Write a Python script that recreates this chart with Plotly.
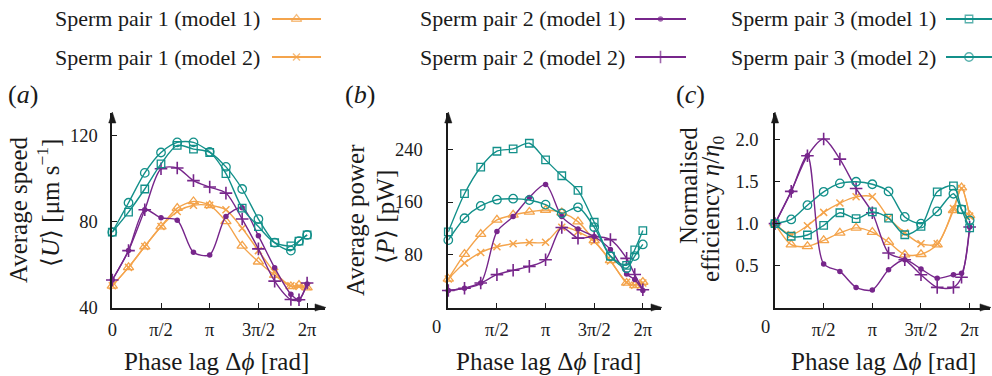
import numpy as np
import plotly.graph_objects as go

PI = np.pi
# phase lag positions, in multiples of pi
phase_units = [0, 1/6, 2/6, 3/6, 4/6, 5/6, 1, 7/6, 8/6, 9/6, 10/6, 11/6, 23/12, 2]
phase = [p * PI for p in phase_units]

xtick_vals = [0, PI / 2, PI, 3 * PI / 2, 2 * PI]
xtick_text = ["0", "π/2", "π", "3π/2", "2π"]

series_names = ["Sperm pair 1 (model 1)", "Sperm pair 1 (model 2)",
                "Sperm pair 2 (model 1)", "Sperm pair 2 (model 2)",
                "Sperm pair 3 (model 1)", "Sperm pair 3 (model 2)"]

# (a) average speed <U> [um/s]
speed_p1_m1 = [50.1, 58.7, 68.4, 77.7, 86.3, 89.4, 87.6, 80.1, 68.7, 61.3, 55.1, 49.8, 50.4, 49.3]
speed_p1_m2 = [50.1, 58.7, 68.4, 77.7, 84.7, 87.6, 87.6, 85.5, 76.9, 66.5, 56.4, 50.1, 49.8, 49.8]
speed_p2_m1 = [52.8, 66.5, 85.5, 81.8, 80.7, 65.7, 64.5, 82.4, 86.5, 73.4, 58.5, 46.2, 43.7, 50.9]
speed_p2_m2 = [52.8, 66.5, 85.5, 104.6, 105.0, 99.1, 96.1, 93.3, 81.2, 67.3, 52.3, 43.7, 43.6, 51.4]
speed_p3_m1 = [75.1, 84.4, 95.2, 106.9, 115.5, 113.8, 112.2, 102.4, 86.3, 77.7, 70.2, 68.7, 70.9, 73.8]
speed_p3_m2 = [75.1, 88.8, 102.7, 112.2, 116.9, 116.9, 112.5, 105.5, 95.2, 81.2, 70.2, 66.5, 70.9, 73.8]

# (b) average power <P> [pW]
power_p1_m1 = [43.3, 81.0, 111.2, 132.8, 140.4, 144.9, 147.9, 143.9, 130.3, 101.6, 71.5, 37.2, 33.7, 38.7]
power_p1_m2 = [43.3, 67.4, 83.5, 92.1, 96.6, 98.6, 99.1, 121.8, 115.2, 100.2, 70.5, 38.3, 33.7, 37.2]
power_p2_m1 = [25.7, 29.2, 37.2, 115.2, 137.9, 167.0, 186.7, 137.9, 119.2, 107.7, 88.0, 50.8, 42.3, 25.7]
power_p2_m2 = [25.7, 29.2, 37.2, 49.8, 56.4, 62.4, 72.5, 121.3, 105.2, 107.7, 103.0, 74.5, 50.0, 27.0]
power_p3_m1 = [114.7, 172.6, 212.8, 237.0, 240.5, 249.1, 223.9, 199.8, 177.6, 129.3, 78.0, 64.0, 87.5, 116.7]
power_p3_m2 = [102.2, 135.4, 154.0, 163.5, 165.0, 163.0, 156.0, 142.9, 152.0, 121.8, 77.5, 59.5, 78.0, 95.6]

# (c) normalised efficiency eta/eta0
eff_p1_m1 = [1.0, 0.75, 0.73, 0.80, 0.89, 0.95, 0.90, 0.78, 0.63, 0.635, 0.75, 1.16, 1.43, 1.10]
eff_p1_m2 = [1.0, 0.87, 0.976, 1.135, 1.246, 1.32, 1.32, 1.07, 0.89, 0.76, 0.76, 1.18, 1.42, 1.09]
eff_p2_m1 = [1.0, 1.385, 1.81, 0.52, 0.43, 0.24, 0.21, 0.45, 0.57, 0.46, 0.35, 0.39, 0.41, 0.96]
eff_p2_m2 = [1.0, 1.385, 1.81, 2.01, 1.77, 1.42, 1.13, 0.65, 0.57, 0.39, 0.24, 0.24, 0.36, 0.96]
eff_p3_m1 = [1.0, 0.85, 0.865, 0.98, 1.13, 1.06, 1.14, 1.067, 0.868, 0.967, 1.38, 1.45, 1.17, 0.95]
eff_p3_m2 = [1.0, 1.05, 1.22, 1.38, 1.48, 1.50, 1.47, 1.384, 1.08, 1.0, 1.146, 1.357, 1.17, 1.04]

ORANGE = "#f4a44c"
PURPLE = "#77268b"
TEAL = "#13908a"
FONT = "Liberation Serif, Times New Roman, serif"
INK = "#1a1a1a"

TICK_SIZE = 18.5
TITLE_SIZE = 25
LEG_SIZE = 22

styles = [
    dict(color=ORANGE, symbol="triangle-up-open", size=9, lw=1.3),
    dict(color=ORANGE, symbol="x-thin", size=7, lw=1.5),
    dict(color=PURPLE, symbol="circle", size=5.5, lw=0),
    dict(color=PURPLE, symbol="cross-thin", size=9, lw=1.6),
    dict(color=TEAL, symbol="square-open", size=7.5, lw=1.3),
    dict(color=TEAL, symbol="circle-open", size=8.5, lw=1.3),
]

panels = [
    ([speed_p1_m1, speed_p1_m2, speed_p2_m1, speed_p2_m2, speed_p3_m1, speed_p3_m2], "x", "y"),
    ([power_p1_m1, power_p1_m2, power_p2_m1, power_p2_m2, power_p3_m1, power_p3_m2], "x2", "y2"),
    ([eff_p1_m1, eff_p1_m2, eff_p2_m1, eff_p2_m2, eff_p3_m1, eff_p3_m2], "x3", "y3"),
]

fig = go.Figure()

for values, xa, ya in panels:
    for name, vals, st in zip(series_names, values, styles):
        fig.add_trace(go.Scatter(
            x=phase, y=vals, xaxis=xa, yaxis=ya, name=name, showlegend=False,
            mode="lines+markers", cliponaxis=False,
            line=dict(color=st["color"], width=1.4, shape="spline", smoothing=0.8),
            marker=dict(symbol=st["symbol"], size=st["size"], color=st["color"],
                        line=dict(color=st["color"], width=st["lw"])),
        ))

W, H = 992, 376


def px(x):
    return x / W


def py(y):
    return 1 - y / H


Y_TOP, Y_BOT = 113, 307.5
ydom = [py(Y_BOT), py(Y_TOP)]
axis_common = dict(showline=True, linecolor=INK, linewidth=1.6, ticks="inside",
                   ticklen=5, tickwidth=1.4, tickcolor=INK, showgrid=False, zeroline=False,
                   tickfont=dict(family=FONT, size=TICK_SIZE, color=INK))

xranges = [[0, 6.86], [0, 6.87], [0, 6.94]]
xdom_px = [(112.3, 325), (448.3, 661), (775, 990)]
yranges = [[40, 130.6], [0, 295], [0, 2.32]]
ytickvals = [[40, 80, 120], [80, 160, 240], [0.5, 1.0, 1.5, 2.0]]
yticktext = [["40", "80", "120"], ["80", "160", "240"], ["0.5", "1.0", "1.5", "2.0"]]
ystandoff = [9, 20, 11]

layout = dict(width=W, height=H, margin=dict(l=0, r=0, t=0, b=0, autoexpand=False),
              paper_bgcolor="white", plot_bgcolor="rgba(0,0,0,0)", showlegend=False,
              font=dict(family=FONT, color=INK))
shapes = []
for i in range(3):
    sx = "" if i == 0 else str(i + 1)
    xv = xtick_vals if i == 0 else xtick_vals[1:]
    xt = xtick_text if i == 0 else xtick_text[1:]
    x0p, x1p = xdom_px[i]
    layout["xaxis" + sx] = dict(domain=[px(x0p), px(x1p)], range=xranges[i], anchor="y" + sx,
                                tickvals=xv, ticktext=xt, ticklabelstandoff=4, **axis_common)
    layout["yaxis" + sx] = dict(domain=ydom, range=yranges[i], anchor="x" + sx,
                                tickvals=ytickvals[i], ticktext=yticktext[i],
                                ticklabelstandoff=ystandoff[i], **axis_common)
    # arrow heads at the axis ends
    L, hw = 10, 3.6
    shapes.append(dict(type="path", xref="paper", yref="paper", fillcolor=INK,
                       line=dict(color=INK, width=0.5),
                       path=f"M{px(x1p + 1)},{py(Y_BOT)} L{px(x1p - L)},{py(Y_BOT - hw)} "
                            f"L{px(x1p - L)},{py(Y_BOT + hw)} Z"))
    shapes.append(dict(type="path", xref="paper", yref="paper", fillcolor=INK,
                       line=dict(color=INK, width=0.5),
                       path=f"M{px(x0p)},{py(Y_TOP - 1)} L{px(x0p - hw)},{py(Y_TOP + L)} "
                            f"L{px(x0p + hw)},{py(Y_TOP + L)} Z"))

# overlay axis (figure pixel frame) for the legend keys
layout["xaxis4"] = dict(domain=[0, 1], range=[0, W], visible=False, anchor="y4", fixedrange=True)
layout["yaxis4"] = dict(domain=[0, 1], range=[H, 0], visible=False, anchor="x4", fixedrange=True)

fig.update_layout(**layout)

annotations = []


def ann(text, x, y, size, angle=0, xanchor="center"):
    annotations.append(dict(xref="paper", yref="paper", x=px(x), y=py(y), text=text,
                            showarrow=False, textangle=angle, xanchor=xanchor,
                            yanchor="middle", font=dict(family=FONT, size=size, color=INK)))


# panel labels
ann("(<i>a</i>)", 23, 95, 26)
ann("(<i>b</i>)", 360, 95, 26)
ann("(<i>c</i>)", 690, 95, 26)
# origin labels for (b), (c)
ann("0", 436, 327, TICK_SIZE)
ann("0", 765, 327, TICK_SIZE)
# x titles
xt_txt = "Phase lag Δ<i>ϕ</i> [rad]"
ann(xt_txt, 216, 361, TITLE_SIZE)
ann(xt_txt, 548, 361, TITLE_SIZE)
ann(xt_txt, 883, 361, TITLE_SIZE)
# y titles
ann("Average speed", 19, 210, TITLE_SIZE, -90)
ann("⟨<i>U</i>⟩ [μm s<sup>−1</sup>]", 48, 203, TITLE_SIZE, -90)
ann("Average power", 355, 220, TITLE_SIZE, -90)
ann("⟨<i>P</i>⟩ [pW]", 385, 217, TITLE_SIZE, -90)
ann("Normalised", 688, 186, TITLE_SIZE, -90)
ann("efficiency <i>η</i>/<i>η</i><sub>0</sub>", 712, 209, TITLE_SIZE, -90)

# legend (text to the left of key)
leg_text_right = [262, 627, 938]
leg_key = [(272, 321), (635, 686), (946, 992)]
leg_rows = [19, 57]
for k, (name, st) in enumerate(zip(series_names, styles)):
    col, row = k // 2, k % 2
    yy = leg_rows[row]
    ann(name, leg_text_right[col], yy, LEG_SIZE, 0, "right")
    x0, x1 = leg_key[col]
    fig.add_trace(go.Scatter(
        x=[x0, (x0 + x1) / 2, x1], y=[yy, yy, yy], xaxis="x4", yaxis="y4",
        mode="lines+markers", showlegend=False, hoverinfo="skip", cliponaxis=False,
        line=dict(color=st["color"], width=2.2),
        marker=dict(symbol=st["symbol"], size=[0, st["size"], 0], color=st["color"],
                    line=dict(color=st["color"], width=st["lw"])),
    ))

fig.update_layout(annotations=annotations, shapes=shapes)
fig.write_html("out.html", config={"displayModeBar": False},
               post_script="document.body.style.margin='0px';"
                           "document.body.style.overflow='hidden';")
